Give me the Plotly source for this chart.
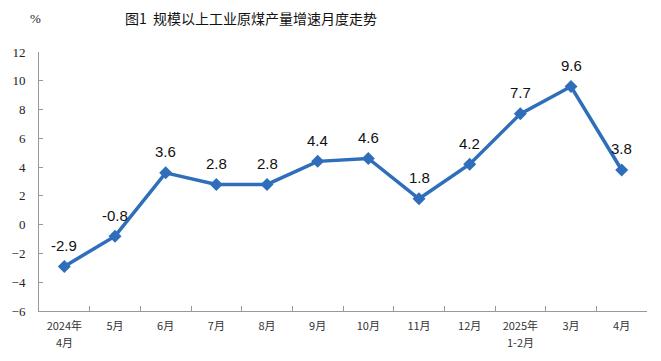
import plotly.graph_objects as go

categories = ["2024年\n4月", "5月", "6月", "7月", "8月", "9月", "10月", "11月", "12月", "2025年\n1-2月", "3月", "4月"]
values = [-2.9, -0.8, 3.6, 2.8, 2.8, 4.4, 4.6, 1.8, 4.2, 7.7, 9.6, 3.8]
labels = ["-2.9", "-0.8", "3.6", "2.8", "2.8", "4.4", "4.6", "1.8", "4.2", "7.7", "9.6", "3.8"]
y_ticks = [-6, -4, -2, 0, 2, 4, 6, 8, 10, 12]

color = "#2F6EBA"

W, H = 653, 353
L, R, T, B = 31, 14, 44, 50
pw, ph = W - L - R, H - T - B

first_lines = [c.split("\n")[0] for c in categories]
second_lines = [c.split("\n")[1] if "\n" in c else "" for c in categories]

fig = go.Figure()
fig.add_trace(go.Scatter(
    x=first_lines, y=values,
    mode="lines+markers",
    line=dict(color=color, width=3.5),
    marker=dict(symbol="diamond", size=10, color=color),
    cliponaxis=False,
    hoverinfo="skip",
))

tick_font = dict(family="Noto Sans CJK SC", size=11, color="#333333")

annotations = [
    dict(x=c, y=v, text=t, xref="x", yref="y", showarrow=False,
         yshift=21, xanchor="center", yanchor="middle",
         font=dict(family="Liberation Sans, Arial", size=15, color="#111111"))
    for c, v, t in zip(first_lines, values, labels)
]
annotations += [
    dict(x=c, y=0, text=s, xref="x", yref="paper", showarrow=False,
         yshift=-31, xanchor="center", yanchor="middle", font=tick_font)
    for c, s in zip(first_lines, second_lines) if s
]
annotations += [
    dict(text="图1  规模以上工业原煤产量增速月度走势", xref="paper", yref="paper",
         x=(243 - L) / pw, y=1 + (T - 10) / ph, xanchor="center", yanchor="middle",
         showarrow=False, font=dict(family="Noto Sans CJK SC", size=14, color="#111111")),
    dict(text="%", xref="paper", yref="paper",
         x=(27 - L) / pw, y=1 + (T - 10) / ph, xanchor="center", yanchor="middle",
         showarrow=False, font=dict(family="Liberation Serif", size=13, color="#222222")),
]

fig.update_layout(
    width=W, height=H,
    margin=dict(l=L, r=R, t=T, b=B, autoexpand=False),
    paper_bgcolor="white", plot_bgcolor="white",
    showlegend=False,
    xaxis=dict(
        type="category", tickson="boundaries",
        range=[-0.5, len(categories) - 0.5],
        showline=True, linecolor="#999999", linewidth=1,
        ticks="inside", ticklen=5, tickcolor="#999999",
        showgrid=False, zeroline=False,
        tickfont=tick_font,
        ticklabelstandoff=5,
    ),
    yaxis=dict(
        range=[-6, 12], tickvals=y_ticks,
        showline=True, linecolor="#999999", linewidth=1,
        ticks="inside", ticklen=4, tickcolor="#999999",
        showgrid=False, zeroline=False,
        tickfont=dict(family="Liberation Serif, Times New Roman", size=13, color="#222222"),
        ticklabelstandoff=10,
    ),
    annotations=annotations,
)

fig.write_html("out.html")
